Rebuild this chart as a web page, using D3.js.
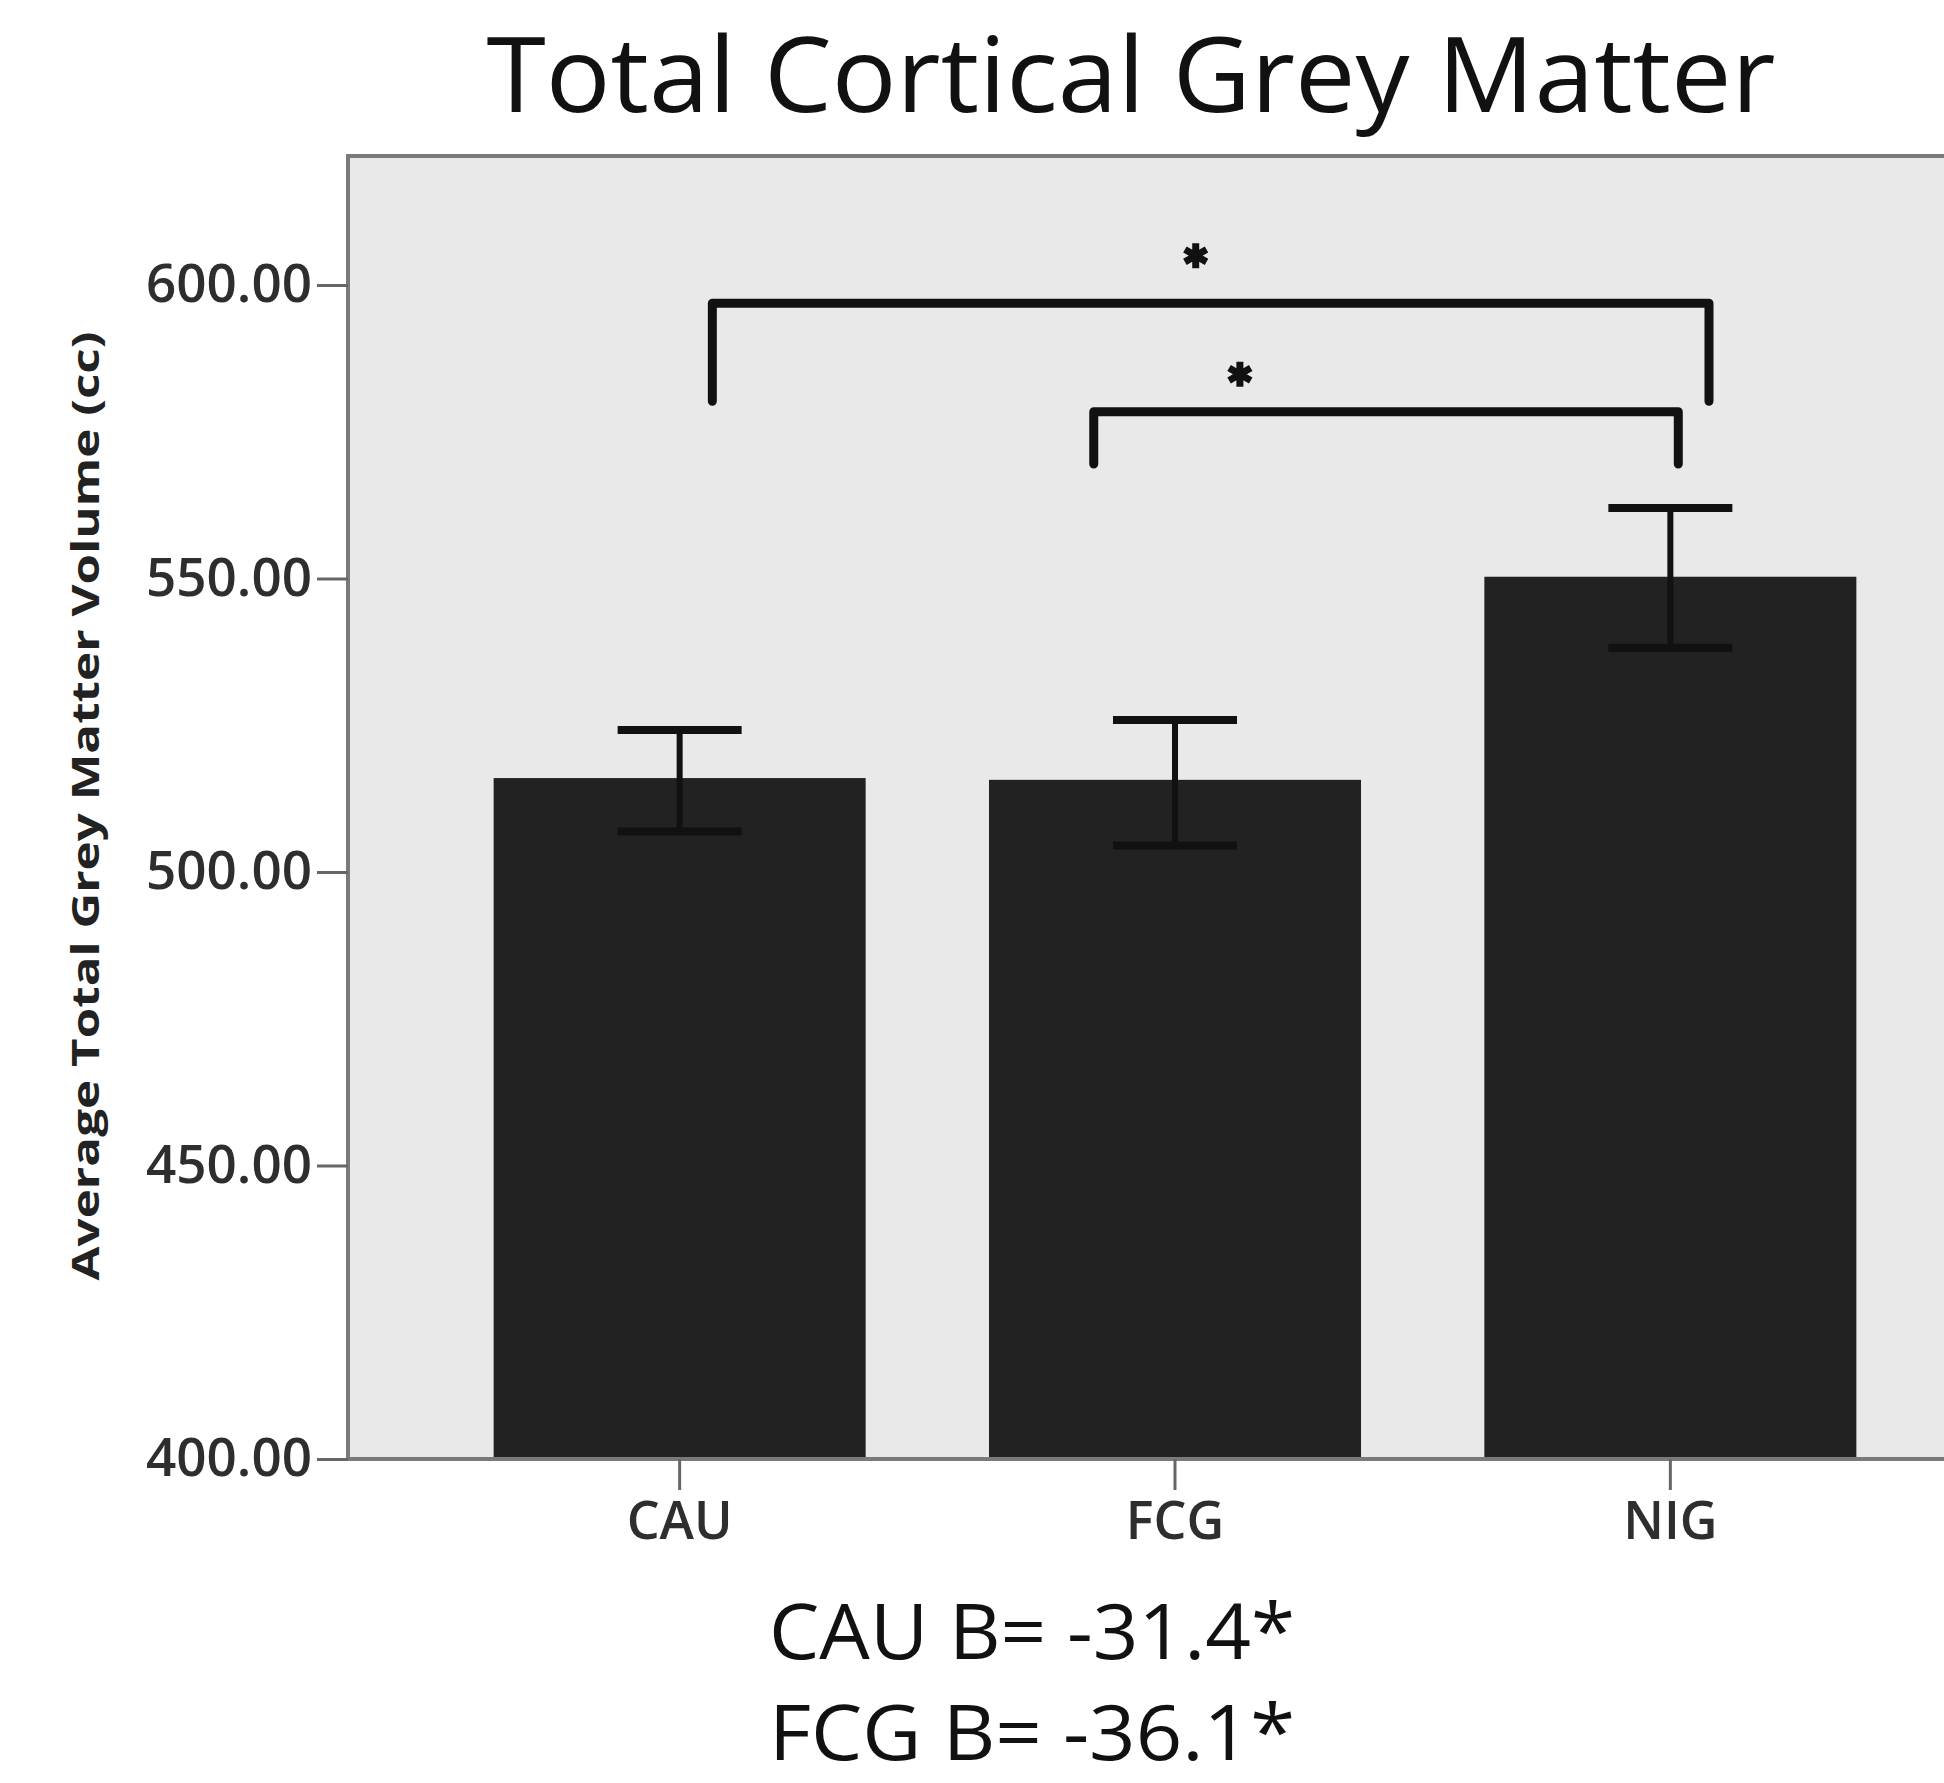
<!DOCTYPE html>
<html>
<head>
<meta charset="utf-8">
<script src="https://cdn.jsdelivr.net/npm/d3@7"></script>
<style>
  body { margin: 0; background: #fff; }
</style>
</head>
<body>
<div id="chart"></div>
<script>
// values
const categories = ["CAU", "FCG", "NIG"];
const meanVolume = [516.0, 515.7, 550.3];
const errLow = [506.9, 504.5, 538.2];
const errHigh = [524.2, 525.9, 562.0];
const yTicks = [400, 450, 500, 550, 600];

// significance brackets
const bracketFrom = ["CAU", "FCG"];
const bracketTo = ["NIG", "NIG"];
const bracketTop = [596.9, 578.4];
const bracketFoot = [580.2, 569.5];
const starLevel = [605.0, 584.8];

const titleText = "Total Cortical Grey Matter";
const yLabel = "Average Total Grey Matter Volume (cc)";
const notes = ["CAU B= -31.4*", "FCG B= -36.1*"];

const WIDTH = 1944, HEIGHT = 1783;
const PLOT = { LEFT: 348, TOP: 156, BOTTOM: 1459, RIGHT: 2002 };
const FONT = "'Open Sans', 'DejaVu Sans', sans-serif";

// leg offsets (in band steps) and star position along each bracket
const bracketLegs = [[0.066, 0.078], [-0.164, 0.016]];
const starAlong = [0.485, 0.25];

const svg = d3.select("#chart")
  .append("svg")
  .attr("width", WIDTH)
  .attr("height", HEIGHT)
  .style("display", "block");

const x = d3.scaleBand()
  .domain(categories)
  .range([PLOT.LEFT, PLOT.RIGHT])
  .paddingInner(0.249)
  .paddingOuter(0.294);

const y = d3.scaleLinear()
  .domain([400, 600])
  .range([PLOT.BOTTOM, 285]);

// plot background
svg.append("rect")
  .attr("x", PLOT.LEFT)
  .attr("y", PLOT.TOP)
  .attr("width", PLOT.RIGHT - PLOT.LEFT)
  .attr("height", PLOT.BOTTOM - PLOT.TOP)
  .attr("fill", "#e9e9e9");

// bars
svg.selectAll("rect.bar")
  .data(categories)
  .enter()
  .append("rect")
  .attr("class", "bar")
  .attr("x", d => x(d))
  .attr("width", x.bandwidth())
  .attr("y", (d, i) => y(meanVolume[i]))
  .attr("height", (d, i) => y(400) - y(meanVolume[i]))
  .attr("fill", "#222");

// frame on top of bars
svg.append("rect")
  .attr("x", PLOT.LEFT)
  .attr("y", PLOT.TOP)
  .attr("width", PLOT.RIGHT - PLOT.LEFT)
  .attr("height", PLOT.BOTTOM - PLOT.TOP)
  .attr("fill", "none")
  .attr("stroke", "#7a7a7a")
  .attr("stroke-width", 4);

// error bars
const capHalf = x.bandwidth() / 6;
const err = svg.append("g").attr("stroke", "#111");
categories.forEach((c, i) => {
  const cx = x(c) + x.bandwidth() / 2;
  err.append("line")
    .attr("x1", cx).attr("x2", cx)
    .attr("y1", y(errHigh[i])).attr("y2", y(errLow[i]))
    .attr("stroke-width", 6);
  [errHigh[i], errLow[i]].forEach(v => {
    err.append("line")
      .attr("x1", cx - capHalf).attr("x2", cx + capHalf)
      .attr("y1", y(v)).attr("y2", y(v))
      .attr("stroke-width", 8);
  });
});

// y axis
const yAxis = svg.append("g")
  .attr("transform", `translate(${PLOT.LEFT},0)`)
  .call(d3.axisLeft(y).tickValues(yTicks).tickFormat(d3.format(".2f")).tickSize(31).tickPadding(5));
yAxis.select(".domain").remove();
yAxis.selectAll(".tick line").attr("stroke", "#666").attr("stroke-width", 3);
yAxis.selectAll(".tick text")
  .attr("fill", "#2e2e2e")
  .style("font-family", FONT)
  .style("font-weight", 600)
  .style("font-size", "53px");

// x axis
const xAxis = svg.append("g")
  .attr("transform", `translate(0,${PLOT.BOTTOM})`)
  .call(d3.axisBottom(x).tickSize(31).tickPadding(12));
xAxis.select(".domain").remove();
xAxis.selectAll(".tick line").attr("stroke", "#666").attr("stroke-width", 3);
xAxis.selectAll(".tick text")
  .attr("fill", "#2e2e2e")
  .style("font-family", FONT)
  .style("font-weight", 600)
  .style("font-size", "52px");

// significance brackets
const step = x.step();
const bracketG = svg.append("g")
  .attr("fill", "none")
  .attr("stroke", "#111")
  .attr("stroke-width", 9)
  .attr("stroke-linejoin", "round")
  .attr("stroke-linecap", "round");
const star = d3.symbol().type(d3.symbolAsterisk).size(440);
bracketFrom.forEach((from, i) => {
  const x1 = x(from) + x.bandwidth() / 2 + bracketLegs[i][0] * step;
  const x2 = x(bracketTo[i]) + x.bandwidth() / 2 + bracketLegs[i][1] * step;
  const path = d3.path();
  path.moveTo(x1, y(bracketFoot[i]));
  path.lineTo(x1, y(bracketTop[i]));
  path.lineTo(x2, y(bracketTop[i]));
  path.lineTo(x2, y(bracketFoot[i]));
  bracketG.append("path").attr("d", path.toString());
  bracketG.append("path")
    .attr("d", star())
    .attr("stroke-width", 7)
    .attr("stroke-linecap", "butt")
    .attr("transform", `translate(${x1 + starAlong[i] * (x2 - x1)},${y(starLevel[i])})`);
});

// title
svg.append("text")
  .attr("x", 1131)
  .attr("y", 112)
  .attr("text-anchor", "middle")
  .attr("textLength", 1289)
  .attr("lengthAdjust", "spacingAndGlyphs")
  .attr("fill", "#111")
  .style("font-family", FONT)
  .style("font-size", "104px")
  .text(titleText);

// y axis title
svg.append("text")
  .attr("transform", "translate(99,806) rotate(-90)")
  .attr("text-anchor", "middle")
  .attr("textLength", 949)
  .attr("lengthAdjust", "spacingAndGlyphs")
  .attr("fill", "#222")
  .style("font-family", FONT)
  .style("font-weight", 700)
  .style("font-size", "38px")
  .text(yLabel);

// regression notes under the chart
svg.selectAll("text.note")
  .data(notes)
  .enter()
  .append("text")
  .attr("class", "note")
  .attr("x", 1032)
  .attr("y", (d, i) => 1659 + i * 101)
  .attr("text-anchor", "middle")
  .attr("textLength", 526)
  .attr("lengthAdjust", "spacingAndGlyphs")
  .attr("fill", "#111")
  .style("font-family", FONT)
  .style("font-size", "76px")
  .text(d => d);
</script>
</body>
</html>
